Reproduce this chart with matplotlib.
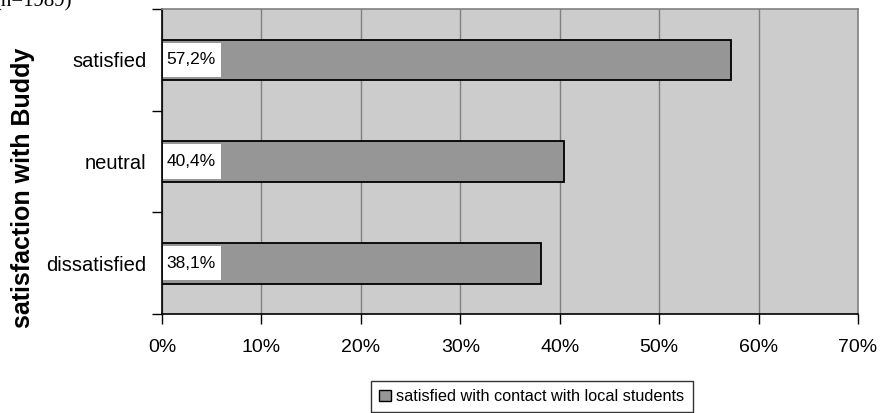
import matplotlib
matplotlib.use("Agg")
import matplotlib.pyplot as plt
from matplotlib.patches import Patch
from matplotlib.ticker import FixedLocator, FuncFormatter

plt.rcParams['font.family'] = ['Liberation Sans', 'DejaVu Sans']

# Share of students satisfied with contact with local students,
# by satisfaction with their Buddy
categories = ["dissatisfied", "neutral", "satisfied"]
values = [38.1, 40.4, 57.2]
value_labels = ["38,1%", "40,4%", "57,2%"]
x_ticks = [0, 10, 20, 30, 40, 50, 60, 70]
series_name = "satisfied with contact with local students"
axis_title = "satisfaction with Buddy"
note = "(n=1989)"

W, H = 884, 413
fig = plt.figure(figsize=(W / 100, H / 100), dpi=100)
ax = fig.add_axes([162 / W, 1 - 314 / H, (858 - 162) / W, (314 - 9) / H])

bar_color = "#969696"
bg_color = "#cccccc"
grid_color = "#808080"

ax.set_facecolor(bg_color)
ax.set_xlim(0, 70)
ax.set_ylim(-0.5, len(categories) - 0.5)

pos = list(range(len(categories)))
ax.barh(pos, values, height=0.4, color=bar_color, edgecolor="black",
        linewidth=1.3, zorder=3)

# white boxes behind the value labels at the start of each bar
box_w = 5.8
ax.barh(pos, [box_w] * len(pos), height=0.34, left=0.15, color="white",
        linewidth=0, zorder=4)
for p, lab in zip(pos, value_labels):
    ax.text(0.45, p, lab, ha="left", va="center", fontsize=12.5, zorder=5)

# vertical gridlines
ax.xaxis.set_major_locator(FixedLocator(x_ticks))
ax.xaxis.set_major_formatter(FuncFormatter(lambda v, _: f"{v:.0f}%"))
ax.grid(axis="x", color=grid_color, linewidth=1.0, zorder=1)
ax.set_axisbelow(True)

# category separators as ticks, names centred between them
ax.yaxis.set_major_locator(FixedLocator([p - 0.5 for p in pos] + [pos[-1] + 0.5]))
ax.yaxis.set_major_formatter(FuncFormatter(lambda v, _: ""))
ax.yaxis.set_minor_locator(FixedLocator(pos))
ax.set_yticklabels(categories, minor=True)
ax.tick_params(axis="y", which="major", length=7, width=1, color="black",
               direction="out")
ax.tick_params(axis="y", which="minor", length=0, pad=11, labelsize=14.5)
ax.tick_params(axis="x", which="major", length=7, width=1, color="black",
               direction="out", pad=11, labelsize=14)

for side in ("top", "right"):
    ax.spines[side].set_color(grid_color)
    ax.spines[side].set_linewidth(1.2)
for side in ("left", "bottom"):
    ax.spines[side].set_color("black")
    ax.spines[side].set_linewidth(1.2)

fig.text(23 / W, 1 - 188 / H, axis_title, rotation=90, ha="center",
         va="center", fontsize=18, fontweight="bold")

fig.text(-6 / W, 1 - 6 / H, note, ha="left", va="baseline", fontsize=15,
         family=["Liberation Serif", "DejaVu Serif"])

handle = Patch(facecolor=bar_color, edgecolor="black", linewidth=1.0)
leg = fig.legend([handle], [series_name], loc="upper center",
                 bbox_to_anchor=(532 / W, 1 - 381 / H), fontsize=11.7,
                 frameon=True, fancybox=False, handlelength=0.7,
                 handleheight=0.7, handletextpad=0.35, borderpad=0.5,
                 borderaxespad=0)
leg.get_frame().set_edgecolor("black")
leg.get_frame().set_linewidth(1.0)

fig.savefig("out.png", dpi=100)
